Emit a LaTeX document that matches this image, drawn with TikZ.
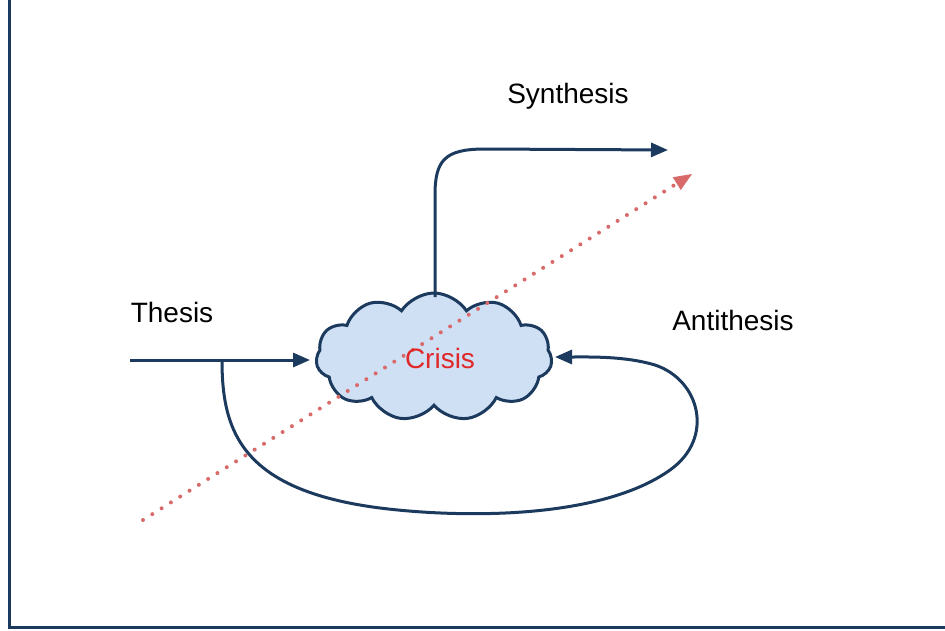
\documentclass[tikz,border=0pt]{standalone}
\usepackage{fontspec}
\setmainfont{Liberation Sans}
\usetikzlibrary{shapes.symbols,arrows.meta}
\definecolor{navy}{HTML}{1B3A5E}
\definecolor{cloudfill}{HTML}{CFE0F4}
\definecolor{dotred}{HTML}{D96A6A}
\definecolor{crisisred}{HTML}{E02828}
\begin{document}
\begin{tikzpicture}[x=1pt,y=-1pt,
  flow/.style={draw=navy,line width=3pt,-{Triangle[length=17pt,width=14pt]}},
  label/.style={font=\fontsize{28}{32}\selectfont,text=black},
  axis/.style={draw=navy,line width=3pt}]
  \useasboundingbox (0,0) rectangle (945,630);
  \fill[white] (0,0) rectangle (945,630);
  % axes
  \coordinate (top) at (9,0);
  \coordinate (origin) at (9,627);
  \coordinate (right) at (945,627);
  \draw[axis] (top) -- (origin) -- (right);
  % central cloud
  \node[cloud, cloud puffs=11, cloud puff arc=115, aspect=2.0,
        draw=navy, line width=3pt, fill=cloudfill,
        minimum width=236pt, minimum height=128pt] (crisis) at (434,357) {};
  % dotted diagonal trend
  \coordinate (trendstart) at (143,520);
  \coordinate (trendend) at (692,174);
  \draw[dotred, line width=4pt, dash pattern=on 0pt off 11pt, line cap=round,
        -{Triangle[length=18pt,width=15pt,fill=dotred,line width=0pt]}] (trendstart) -- (trendend);
  % texts
  \node[label, text=crisisred] (crisistext) at (440,358) {Crisis};
  \node[label] (thesis) at (172,312) {Thesis};
  \node[label] (synthesis) at (568,96) {Synthesis};
  \node[label] (antithesis) at (733,320) {Antithesis};
  % thesis arrow
  \coordinate (thesisstart) at (130,360);
  \coordinate (thesisend) at (310,360);
  \coordinate (branch) at (222,360);
  \draw[flow] (thesisstart) -- (thesisend);
  % loop through antithesis back into the cloud
  \coordinate (antiend) at (555,357);
  \draw[flow] (branch) .. controls (222,430) and (240,490) .. (380,508)
     .. controls (460,518) and (600,520) .. (670,470)
     .. controls (715,438) and (700,380) .. (655,365)
     .. controls (625,356) and (590,357) .. (antiend);
  % synthesis arrow out of the cloud top
  \coordinate (synthstart) at (435,297);
  \coordinate (synthend) at (668,150);
  \draw[flow] (synthstart) -- (435,195)
     .. controls (435,160) and (445,149) .. (485,149) -- (synthend);
\end{tikzpicture}
\end{document}
